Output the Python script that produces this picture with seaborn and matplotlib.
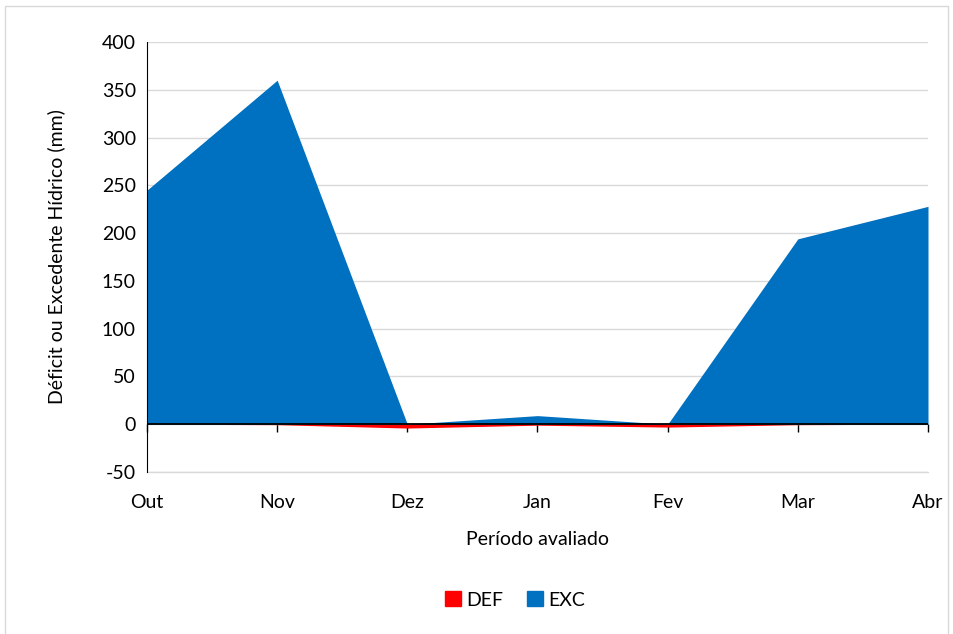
import matplotlib
matplotlib.use("Agg")
import matplotlib.pyplot as plt
import seaborn as sns
from matplotlib.patches import Patch, Rectangle

# data
meses = ['Out', 'Nov', 'Dez', 'Jan', 'Fev', 'Mar', 'Abr']
defc = [0, -0.5, -4, -1, -3, -0.5, 0]
exc = [245, 360, 0, 9, 0, 194, 228]

sns.set_style('white')
plt.rcParams['font.family'] = ['Lato', 'DejaVu Sans']
plt.rcParams['axes.unicode_minus'] = False
plt.rcParams['text.color'] = 'black'
plt.rcParams['axes.labelcolor'] = 'black'
plt.rcParams['xtick.color'] = 'black'
plt.rcParams['ytick.color'] = 'black'

fig = plt.figure(figsize=(9.54, 6.34), dpi=100)
ax = fig.add_axes([147/954, 1-472/634, (928-147)/954, (472-42)/634])

x = list(range(len(meses)))
ax.fill_between(x, defc, 0, color='#ff0000', linewidth=0, zorder=2)
ax.fill_between(x, exc, 0, color='#0070c0', linewidth=0, zorder=3)
ax.axhline(0, color='black', linewidth=1.3, zorder=4)
ax.axhline(-50, color='#d9d9d9', linewidth=1, zorder=1, clip_on=False)

ax.set_xlim(0, len(meses) - 1)
ax.set_ylim(-50, 400)
ax.set_yticks(range(-50, 401, 50))
ax.set_xticks(x)
ax.set_xticklabels(meses)
ax.yaxis.grid(True, color='#d9d9d9', linewidth=1)
ax.set_axisbelow(True)
for s in ['top', 'right', 'bottom']:
    ax.spines[s].set_visible(False)
ax.spines['left'].set_color('black')
ax.spines['left'].set_zorder(5)
ax.tick_params(axis='x', length=0, pad=16, labelsize=14)
ax.tick_params(axis='y', length=0, pad=8, labelsize=14)

# tick marks on the zero line
sec = ax.secondary_xaxis(50/450)
sec.set_xticks(x)
sec.set_xticklabels([])
sec.tick_params(length=6, width=1, color='black', direction='out')
sec.spines['bottom'].set_visible(False)

ax.set_xlabel('Período avaliado', fontsize=14, labelpad=14)
ax.set_ylabel('Déficit ou Excedente Hídrico (mm)', fontsize=14, labelpad=26)

handles = [Patch(color='#ff0000', label='DEF'), Patch(color='#0070c0', label='EXC')]
fig.legend(handles=handles, loc='center', bbox_to_anchor=(0.54, 1-600/634), ncol=2,
           frameon=False, fontsize=14, handlelength=0.8, handleheight=0.8,
           handletextpad=0.3, columnspacing=1.2)

fig.patches.append(Rectangle((5/954, -0.01), 943/954, 1.01-6/634, transform=fig.transFigure,
                             fill=False, edgecolor='#d9d9d9', linewidth=1))

fig.savefig('out.png', dpi=100)
